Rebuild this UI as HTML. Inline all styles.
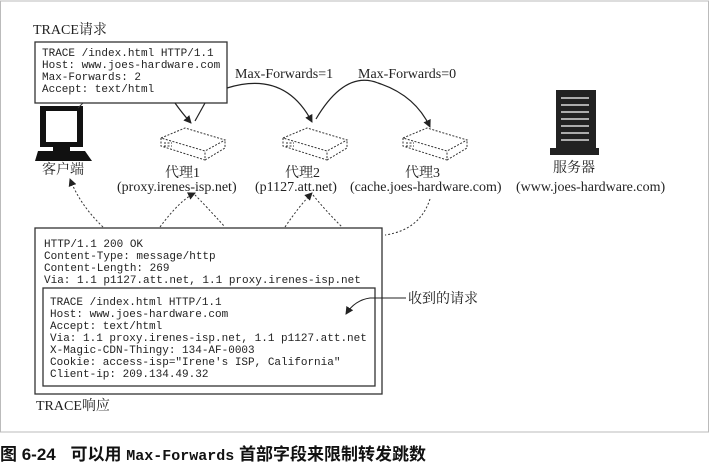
<!DOCTYPE html>
<html><head><meta charset="utf-8"><style>
body{margin:0;background:#fff;}
svg{display:block}
.m{font-family:"Liberation Mono","DejaVu Sans Mono",monospace;font-size:11px;fill:#222}
.s{font-family:"Liberation Serif","Noto Serif CJK SC",serif;font-size:14px;fill:#222}
</style></head><body>
<svg width="711" height="468" viewBox="0 0 711 468" xmlns="http://www.w3.org/2000/svg">
<defs><marker id="a" markerWidth="8" markerHeight="8" refX="7" refY="4" orient="auto" markerUnits="userSpaceOnUse"><path d="M0,0 L8,4 L0,8 z" fill="#222"/></marker>
<g id="px" fill="none" stroke="#333" stroke-width="1" stroke-dasharray="2,1.5">
<path d="M0,12 L24,2 L64,14 L44,25 Z"/><path d="M0,12 L0,20 L44,34 L44,25"/><path d="M44,34 L64,22 L64,14"/>
<path d="M3,17 h8 M3,20 h8" /></g></defs>
<rect x="0.5" y="1" width="708" height="431" fill="none" stroke="#bbb"/>
<text x="33" y="34" class="s">TRACE请求</text>
<rect x="35" y="42" width="192" height="61" fill="#fff" stroke="#333" stroke-width="1.3"/>
<text class="m"><tspan x="42" y="56">TRACE /index.html HTTP/1.1</tspan><tspan x="42" y="68">Host: www.joes-hardware.com</tspan><tspan x="42" y="80">Max-Forwards: 2</tspan><tspan x="42" y="92">Accept: text/html</tspan></text>
<rect x="40" y="106" width="43" height="41" fill="#111"/><rect x="46" y="111" width="31" height="31" fill="#fff"/>
<rect x="53" y="147" width="17" height="4" fill="#111"/><path d="M38,151 L85,151 L92,161 L35,161 Z" fill="#111"/>
<line x1="83" y1="103" x2="78" y2="108" stroke="#333"/>
<text x="42" y="174" class="s">客户端</text>
<use href="#px" x="161" y="126"/><use href="#px" x="283" y="126"/><use href="#px" x="403" y="126"/>
<text x="165" y="177" class="s">代理1</text><text x="117" y="191" class="s">(proxy.irenes-isp.net)</text>
<text x="285" y="177" class="s">代理2</text><text x="255" y="191" class="s">(p1127.att.net)</text>
<text x="405" y="177" class="s">代理3</text><text x="350" y="191" class="s">(cache.joes-hardware.com)</text>
<rect x="556" y="90" width="40" height="58" fill="#222"/><rect x="550" y="148" width="49" height="7" fill="#222"/>
<g stroke="#fff" stroke-width="1.3"><line x1="561" y1="98" x2="589" y2="98"/><line x1="561" y1="105" x2="589" y2="105"/><line x1="561" y1="112" x2="589" y2="112"/><line x1="561" y1="119" x2="589" y2="119"/><line x1="561" y1="126" x2="589" y2="126"/><line x1="561" y1="133" x2="589" y2="133"/><line x1="561" y1="140" x2="589" y2="140"/></g>
<text x="553" y="172" class="s">服务器</text><text x="516" y="191" class="s">(www.joes-hardware.com)</text>
<text x="235" y="78" class="s">Max-Forwards=1</text><text x="358" y="78" class="s">Max-Forwards=0</text>
<g fill="none" stroke="#222" stroke-width="1.2">
<path d="M175,103 Q182,113 191,123" marker-end="url(#a)"/>
<path d="M195,121 L205,103"/>
<path d="M227,88 Q285,70 312,122" marker-end="url(#a)"/>
<path d="M316,119 Q345,70 378,83 Q415,95 430,127" marker-end="url(#a)"/>
</g>
<g fill="none" stroke="#333" stroke-width="1" stroke-dasharray="2,2">
<path d="M103,227 Q80,205 70,179" marker-end="url(#a)"/>
<path d="M160,227 Q180,200 195,193" marker-end="url(#a)"/><path d="M195,195 Q205,205 225,227"/>
<path d="M285,227 Q300,205 312,193" marker-end="url(#a)"/><path d="M313,195 Q325,210 342,227"/>
<path d="M430,199 Q420,230 385,235"/>
</g>
<rect x="35" y="228" width="347" height="166" fill="none" stroke="#333" stroke-width="1.3"/>
<text class="m"><tspan x="44" y="247">HTTP/1.1 200 OK</tspan><tspan x="44" y="259">Content-Type: message/http</tspan><tspan x="44" y="271">Content-Length: 269</tspan><tspan x="44" y="283">Via: 1.1 p1127.att.net, 1.1 proxy.irenes-isp.net</tspan></text>
<rect x="43" y="288" width="332" height="98" fill="none" stroke="#333" stroke-width="1.3"/>
<text class="m"><tspan x="50" y="305">TRACE /index.html HTTP/1.1</tspan><tspan x="50" y="317">Host: www.joes-hardware.com</tspan><tspan x="50" y="329">Accept: text/html</tspan><tspan x="50" y="341">Via: 1.1 proxy.irenes-isp.net, 1.1 p1127.att.net</tspan><tspan x="50" y="353">X-Magic-CDN-Thingy: 134-AF-0003</tspan><tspan x="50" y="365">Cookie: access-isp="Irene's ISP, California"</tspan><tspan x="50" y="377">Client-ip: 209.134.49.32</tspan></text>
<path d="M406,298 L370,298 Q355,300 346,314" fill="none" stroke="#222" stroke-width="1" marker-end="url(#a)"/>
<text x="408" y="303" class="s">收到的请求</text>
<text x="36" y="410" class="s">TRACE响应</text>
<text x="0" y="460" style="font-family:'Liberation Sans','Noto Sans CJK SC',sans-serif;font-size:17px;font-weight:bold" fill="#111">图 6-24 <tspan dx="10">可以用 </tspan><tspan style="font-family:'Liberation Mono',monospace;font-size:15px">Max-Forwards</tspan> 首部字段来限制转发跳数</text>
</svg>
</body></html>
